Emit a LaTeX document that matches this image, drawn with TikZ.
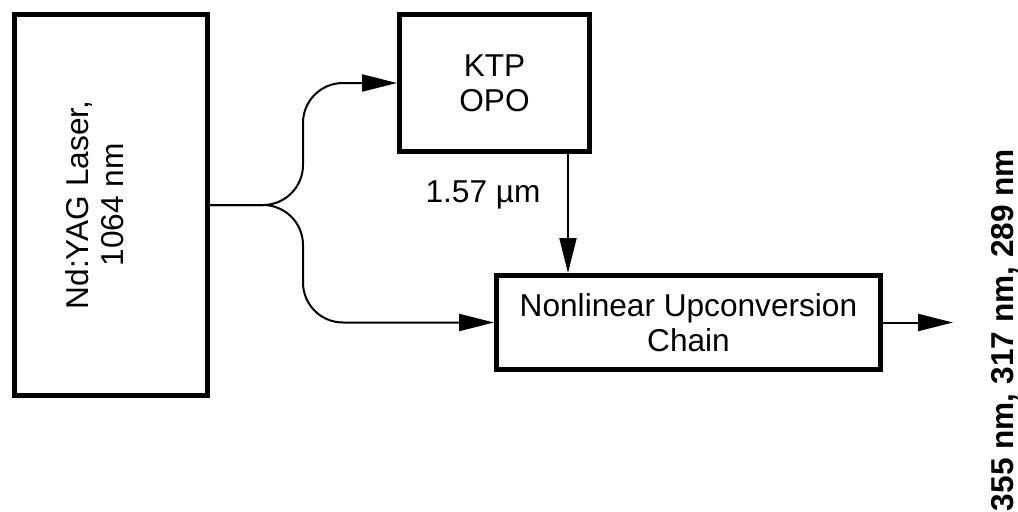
\documentclass[tikz,border=0pt]{standalone}
\usepackage{fontspec}
\setmainfont{Liberation Sans}
\usetikzlibrary{arrows.meta}

\begin{document}
\begin{tikzpicture}[
  x=0.02cm, y=-0.02cm,
  every node/.style={font=\fontsize{18}{20}\selectfont},
  unit/.style={draw, line width=0.1cm, inner sep=0pt, align=center},
  wire/.style={line width=0.04cm, -{Triangle[length=0.7cm,width=0.34cm]}}
]
\useasboundingbox (0,0) rectangle (1018,511);

\node[unit, minimum width=3.86cm, minimum height=7.62cm] (laser) at (111,205) {};
\node[rotate=90, align=center] (lasertxt) at (95,205) {Nd:YAG Laser,\\1064 nm};
\node[unit, minimum width=3.8cm, minimum height=2.74cm] (ktp) at (494.5,83) {KTP\\OPO};
\node[unit, minimum width=7.68cm, minimum height=1.88cm] (nuc) at (688.5,322.5) {Nonlinear Upconversion\\Chain};
\node (pump) at (483,195) {1.57 µm};
\node[rotate=90, font=\fontsize{18}{20}\selectfont\bfseries] (uv) at (1005,330) {355 nm, 317 nm, 289 nm};

\coordinate (fork) at (303,205);
\coordinate (opoout) at ([xshift=-0.48cm]ktp.south east);
\coordinate (out) at (953,322.5);

\draw[wire, rounded corners=0.8cm] (laser.east) -- (fork) |- (ktp.west);
\draw[wire, rounded corners=0.8cm] (laser.east) -- (fork) |- (nuc.west);
\draw[wire] (opoout) -- (opoout |- nuc.north);
\draw[wire] (nuc.east) -- (out);
\end{tikzpicture}
\end{document}
